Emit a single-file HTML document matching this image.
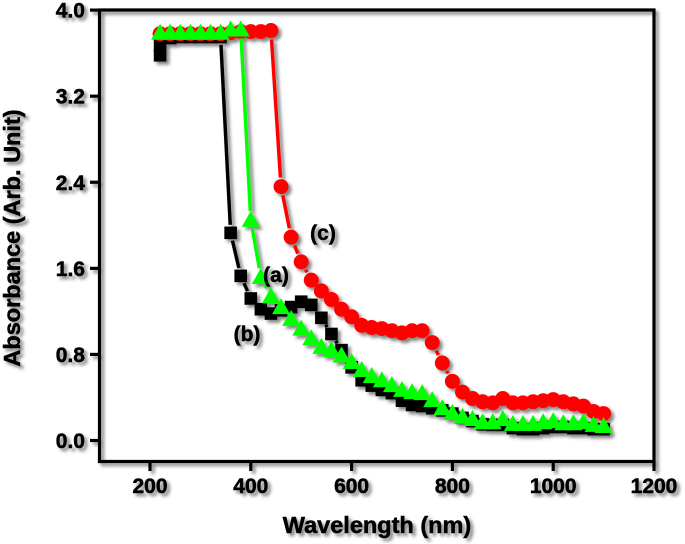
<!DOCTYPE html>
<html>
<head>
<meta charset="utf-8">
<style>
html,body{margin:0;padding:0;background:#fff;width:685px;height:544px;overflow:hidden}
svg{display:block}
text{font-family:"Liberation Sans",Arial,sans-serif;font-weight:bold;fill:#000;stroke:#000;stroke-width:.55px}
</style>
</head>
<body>
<svg id="chart" width="685" height="544" viewBox="0 0 685 544" xmlns="http://www.w3.org/2000/svg">
<defs>
<filter id="shadow" x="-5%" y="-5%" width="110%" height="110%" filterUnits="objectBoundingBox">
<feDropShadow dx="3" dy="3" stdDeviation="1.7" flood-color="#444" flood-opacity="0.65"/>
</filter>
</defs>
<g id="root" filter="url(#shadow)"></g>
</svg>
<script>
const xTicks = [200, 400, 600, 800, 1000, 1200];
const yTicks = [0.0, 0.8, 1.6, 2.4, 3.2, 4.0];
const xTickLabels = ["200", "400", "600", "800", "1000", "1200"];
const yTickLabels = ["0.0", "0.8", "1.6", "2.4", "3.2", "4.0"];

const wavelengths = [220,240,260,280,300,320,340,360,380,400,420,440,460,480,500,520,540,560,580,600,620,640,660,680,700,720,740,760,780,800,820,840,860,880,900,920,940,960,980,1000,1020,1040,1060,1080,1100];
const blackWavelengths = [220,220,240,260,280,300,320,340,360,380,400,420,440,460,480,500,520,540,560,580,600,620,640,660,680,700,720,740,760,780,800,820,840,860,880,900,920,940,960,980,1000,1020,1040,1060,1080,1100];

const seriesB = [3.58,3.67,3.74,3.75,3.75,3.75,3.75,3.75,1.93,1.53,1.32,1.22,1.18,1.21,1.24,1.29,1.26,1.14,0.99,0.84,0.68,0.56,0.51,0.47,0.44,0.37,0.33,0.32,0.30,0.28,0.25,0.21,0.18,0.15,0.145,0.145,0.115,0.105,0.105,0.115,0.125,0.125,0.115,0.115,0.105,0.105];
const seriesC = [3.78,3.78,3.78,3.78,3.78,3.78,3.78,3.79,3.80,3.80,3.80,3.81,2.36,1.89,1.66,1.49,1.39,1.31,1.22,1.15,1.07,1.05,1.04,1.02,1.00,1.02,1.02,0.91,0.72,0.55,0.45,0.39,0.36,0.35,0.39,0.35,0.35,0.36,0.37,0.38,0.36,0.34,0.32,0.27,0.25];
const seriesA = [3.79,3.79,3.79,3.79,3.79,3.79,3.79,3.82,3.82,2.05,1.52,1.34,1.24,1.13,1.04,0.95,0.87,0.84,0.79,0.73,0.655,0.60,0.56,0.515,0.47,0.45,0.44,0.375,0.30,0.255,0.22,0.20,0.17,0.17,0.20,0.155,0.155,0.155,0.17,0.18,0.16,0.16,0.17,0.145,0.135];

const NS = "http://www.w3.org/2000/svg";
const root = document.getElementById("root");
const xPos = v => 150 + (v - 200) * 0.504;
const yPos = v => 440.5 - v * 107.6;

function make(tag, attrs, text) {
  const el = document.createElementNS(NS, tag);
  for (const k in attrs) el.setAttribute(k, attrs[k]);
  if (text !== undefined) el.textContent = text;
  root.appendChild(el);
  return el;
}

function axisLine(name, x1, y1, x2, y2) {
  const el = make("line", {x1, y1, x2, y2, stroke: "#000", "stroke-width": 3.2});
  
  
}

axisLine("left-axis", 99.5, 8.5, 99.5, 463);
axisLine("bottom-axis", 98, 461.5, 655.5, 461.5);
axisLine("top-axis", 98, 10, 655.5, 10);
axisLine("right-axis", 654, 8.5, 654, 463);

xTicks.forEach((t, i) => {
  axisLine("x-tick", xPos(t), 461.5, xPos(t), 471);
  const label = make("text", {x: xPos(t), y: 493, "text-anchor": "middle", "font-size": 21}, xTickLabels[i]);
  
  
});

yTicks.forEach((t, i) => {
  axisLine("y-tick", 90, yPos(t), 99.5, yPos(t));
  const label = make("text", {x: 85, y: yPos(t) + 7.5, "text-anchor": "end", "font-size": 21}, yTickLabels[i]);
  
  
});

function drawLine(name, xs, ys, color, gapRadius) {
  for (let i = 0; i < xs.length - 1; i++) {
    const x1 = xPos(xs[i]), y1 = yPos(ys[i]), x2 = xPos(xs[i + 1]), y2 = yPos(ys[i + 1]);
    const d = Math.hypot(x2 - x1, y2 - y1);
    if (d <= gapRadius * 2 + 0.5) continue;
    const ux = (x2 - x1) / d, uy = (y2 - y1) / d;
    const seg = make("line", {
      x1: x1 + ux * gapRadius, y1: y1 + uy * gapRadius,
      x2: x2 - ux * gapRadius, y2: y2 - uy * gapRadius,
      stroke: color, "stroke-width": 3.5
    });
    
    
  }
}

drawLine("line-b", blackWavelengths, seriesB, "#000", 8);
blackWavelengths.forEach((w, i) => {
  const m = make("rect", {x: xPos(w) - 6.3, y: yPos(seriesB[i]) - 6.3, width: 12.6, height: 12.6, fill: "#000"});
  
  
});

drawLine("line-c", wavelengths, seriesC, "#f00", 9);
wavelengths.forEach((w, i) => {
  const m = make("circle", {cx: xPos(w), cy: yPos(seriesC[i]), r: 7.5, fill: "#f00"});
  
  
});

drawLine("line-a", wavelengths, seriesA, "#0f0", 9);
wavelengths.forEach((w, i) => {
  const cx = xPos(w), cy = yPos(seriesA[i]);
  const m = make("polygon", {points: `${cx},${cy - 9} ${cx + 9},${cy + 7} ${cx - 9},${cy + 7}`, fill: "#0f0"});
  
  
});

const annA = make("text", {x: 276, y: 282, "text-anchor": "middle", "font-size": 21}, "(a)");


const annB = make("text", {x: 247, y: 341, "text-anchor": "middle", "font-size": 21}, "(b)");


const annC = make("text", {x: 323, y: 240, "text-anchor": "middle", "font-size": 21}, "(c)");



const xTitle = make("text", {x: 377, y: 533, "text-anchor": "middle", "font-size": 23.5}, "Wavelength (nm)");


const yTitle = make("text", {x: 0, y: 0, transform: "translate(20 238) rotate(-90)", "text-anchor": "middle", "font-size": 23.5}, "Absorbance (Arb. Unit)");


</script>
</body>
</html>
